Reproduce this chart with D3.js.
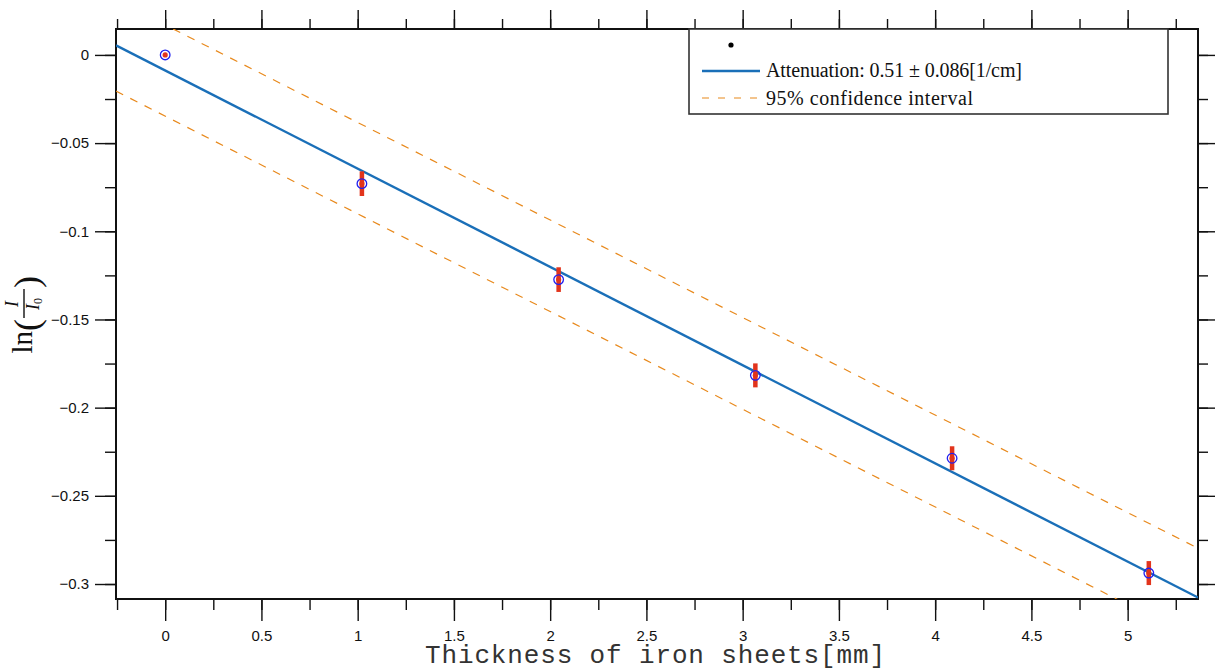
<!DOCTYPE html>
<html lang="en">
<head>
<meta charset="utf-8">
<title>Attenuation</title>
<script src="https://d3js.org/d3.v7.min.js"></script>
<style>
  body { margin: 0; background: #fff; }
  .legend-text { font: 20px "Liberation Serif", "Times New Roman", serif; fill: #111; }
</style>
</head>
<body>
<div id="viz"></div>
<script>
// data
var thickness = [0, 1.022, 2.044, 3.066, 4.088, 5.11];
var lnRatio = [0, -0.0730, -0.1274, -0.1817, -0.2287, -0.2938];
var errLn = [0, 0.0070, 0.0070, 0.0068, 0.0068, 0.0068];

// fitted line and 95% bounds: [intercept, slope]
var fitLine = [-0.0088, -0.0557];
var ciUpper = [0.0170, -0.0553];
var ciLower = [-0.0347, -0.0554];

var xTicks = [0, 0.5, 1, 1.5, 2, 2.5, 3, 3.5, 4, 4.5, 5];
var xTickLabels = ["0", "0.5", "1", "1.5", "2", "2.5", "3", "3.5", "4", "4.5", "5"];
var yTicks = [0, -0.05, -0.1, -0.15, -0.2, -0.25, -0.3];
var yTickLabels = ["0", "\u22120.05", "\u22120.1", "\u22120.15", "\u22120.2", "\u22120.25", "\u22120.3"];
var xDomain = [-0.2555, 5.3655];
var yDomain = [-0.3085, 0.0147];

var width = 1215, height = 670;
var plot = {left: 116, right: 1198, top: 29, bottom: 599};

var svg = d3.select("#viz").append("svg")
    .attr("width", width)
    .attr("height", height);

var x = d3.scaleLinear().domain(xDomain).range([plot.left, plot.right]);
var y = d3.scaleLinear().domain(yDomain).range([plot.bottom, plot.top]);

svg.append("clipPath").attr("id", "clip")
  .append("rect")
    .attr("x", plot.left).attr("y", plot.top)
    .attr("width", plot.right - plot.left)
    .attr("height", plot.bottom - plot.top);

// minor ticks every 0.25 / 0.025
var xMinor = d3.range(-0.25, 5.36, 0.25).filter(function(v) { return v >= xDomain[0] - 1e-9; });
var yMinor = d3.range(0, -0.31, -0.025);

var fmtNone = function() { return ""; };

// bottom axis
svg.append("g").attr("transform", "translate(0," + plot.bottom + ")")
    .call(d3.axisBottom(x).tickValues(xMinor).tickSize(11).tickFormat(fmtNone));
svg.append("g").attr("class", "major").attr("transform", "translate(0," + plot.bottom + ")")
    .call(d3.axisBottom(x).tickValues(xTicks).tickSize(22).tickPadding(9)
      .tickFormat(function(d, i) { return xTickLabels[i]; }));
// top axis
svg.append("g").attr("transform", "translate(0," + plot.top + ")")
    .call(d3.axisTop(x).tickValues(xMinor).tickSize(10).tickFormat(fmtNone));
svg.append("g").attr("transform", "translate(0," + plot.top + ")")
    .call(d3.axisTop(x).tickValues(xTicks).tickSize(19).tickFormat(fmtNone));
// left axis
svg.append("g").attr("transform", "translate(" + plot.left + ",0)")
    .call(d3.axisLeft(y).tickValues(yMinor).tickSize(11).tickFormat(fmtNone));
svg.append("g").attr("class", "major").attr("transform", "translate(" + plot.left + ",0)")
    .call(d3.axisLeft(y).tickValues(yTicks).tickSize(21).tickPadding(6)
      .tickFormat(function(d, i) { return yTickLabels[i]; }));
// right axis
svg.append("g").attr("transform", "translate(" + plot.right + ",0)")
    .call(d3.axisRight(y).tickValues(yMinor).tickSize(10).tickFormat(fmtNone));
svg.append("g").attr("transform", "translate(" + plot.right + ",0)")
    .call(d3.axisRight(y).tickValues(yTicks).tickSize(19).tickFormat(fmtNone));

svg.selectAll(".domain").remove();
svg.selectAll(".tick line").attr("stroke", "#111").attr("stroke-width", 1.4);
svg.selectAll(".major")
    .attr("font-size", 15)
    .attr("font-family", "'Liberation Sans', Arial, sans-serif");
svg.selectAll(".major .tick text").attr("fill", "#111");

// frame
svg.append("rect")
    .attr("x", plot.left).attr("y", plot.top)
    .attr("width", plot.right - plot.left)
    .attr("height", plot.bottom - plot.top)
    .attr("fill", "none")
    .attr("stroke", "#111")
    .attr("stroke-width", 2);

var g = svg.append("g").attr("clip-path", "url(#clip)");

function lineFrom(p) {
  return d3.line()
    .x(function(d) { return x(d); })
    .y(function(d) { return y(p[0] + p[1] * d); })(xDomain);
}

g.append("path").attr("d", lineFrom(ciUpper))
    .attr("fill", "none").attr("stroke", "#e8891c").attr("stroke-width", 1.2)
    .attr("stroke-dasharray", "8,8");
g.append("path").attr("d", lineFrom(ciLower))
    .attr("fill", "none").attr("stroke", "#e8891c").attr("stroke-width", 1.2)
    .attr("stroke-dasharray", "8,8");
g.append("path").attr("d", lineFrom(fitLine))
    .attr("fill", "none").attr("stroke", "#1a6fb8").attr("stroke-width", 2.4);

var pts = thickness.map(function(t, i) { return {x: t, y: lnRatio[i], e: errLn[i]}; });

// error bars
g.selectAll(".err").data(pts).enter().append("line")
    .attr("x1", function(d) { return x(d.x); })
    .attr("x2", function(d) { return x(d.x); })
    .attr("y1", function(d) { return y(d.y - d.e); })
    .attr("y2", function(d) { return y(d.y + d.e); })
    .attr("stroke", "#e2341c").attr("stroke-width", 4.5);
g.selectAll(".dot").data(pts).enter().append("circle")
    .attr("cx", function(d) { return x(d.x); })
    .attr("cy", function(d) { return y(d.y); })
    .attr("r", 2.6).attr("fill", "#e2341c");
g.selectAll(".ring").data(pts).enter().append("circle")
    .attr("cx", function(d) { return x(d.x); })
    .attr("cy", function(d) { return y(d.y); })
    .attr("r", 4.8).attr("fill", "none")
    .attr("stroke", "#2020f0").attr("stroke-width", 1.3);

// legend
var leg = svg.append("g");
leg.append("rect").attr("x", 689).attr("y", 29).attr("width", 479).attr("height", 85)
    .attr("fill", "#fff").attr("stroke", "#333").attr("stroke-width", 1.6);
leg.append("circle").attr("cx", 731).attr("cy", 45).attr("r", 2.6).attr("fill", "#000");
leg.append("line").attr("x1", 702).attr("x2", 760).attr("y1", 71).attr("y2", 71)
    .attr("stroke", "#1a6fb8").attr("stroke-width", 2.4);
leg.append("line").attr("x1", 702).attr("x2", 760).attr("y1", 98).attr("y2", 98)
    .attr("stroke", "#e8891c").attr("stroke-width", 1.2).attr("stroke-dasharray", "7,9");
leg.append("text").attr("class", "legend-text").attr("x", 766).attr("y", 77)
    .attr("textLength", 256)
    .text("Attenuation:  0.51 \u00b1 0.086[1/cm]");
leg.append("text").attr("class", "legend-text").attr("x", 766).attr("y", 105)
    .attr("textLength", 207)
    .text("95% confidence interval");

// x label
svg.append("text")
    .attr("x", 655).attr("y", 663)
    .attr("text-anchor", "middle")
    .attr("textLength", 460)
    .style("font", "26px 'Liberation Mono', 'Courier New', monospace")
    .style("fill", "#333")
    .text("Thickness of iron sheets[mm]");

// y label ln(I/I0)
var yl = svg.append("g").attr("transform", "translate(32,312) rotate(-90)")
    .style("font-family", "'Liberation Serif', 'Times New Roman', serif")
    .style("fill", "#111");
yl.append("text").attr("x", -19).attr("y", 0).attr("text-anchor", "end")
    .style("font-size", "29px").text("ln");
yl.append("text").attr("x", -19).attr("y", 7).style("font-size", "36px").text("(");
yl.append("text").attr("x", 8).attr("y", -14).attr("text-anchor", "middle")
    .style("font-size", "18px").style("font-style", "italic").text("I");
yl.append("line").attr("x1", -6).attr("x2", 23).attr("y1", -8).attr("y2", -8)
    .attr("stroke", "#111").attr("stroke-width", 1.4);
var den = yl.append("text").attr("x", 8).attr("y", 7).attr("text-anchor", "middle")
    .style("font-size", "18px");
den.append("tspan").style("font-style", "italic").text("I");
den.append("tspan").attr("dy", 3).style("font-size", "12px").text("0");
yl.append("text").attr("x", 24).attr("y", 7).style("font-size", "36px").text(")");
</script>
</body>
</html>
